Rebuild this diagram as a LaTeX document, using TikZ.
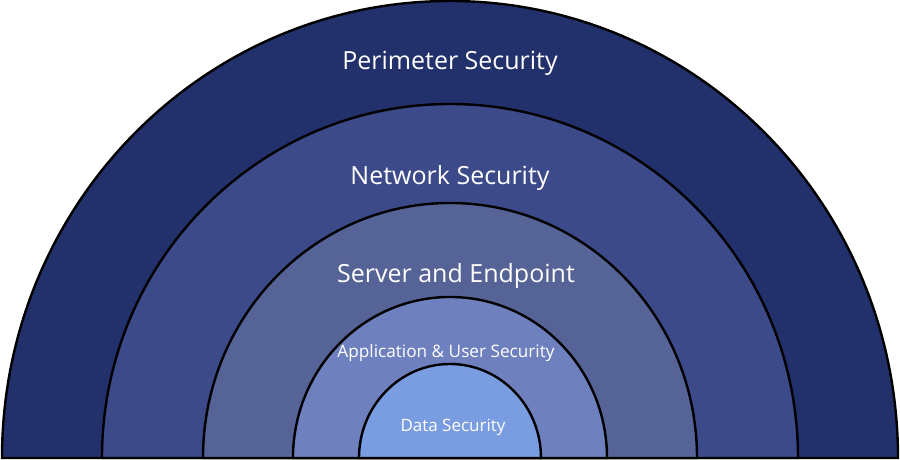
\documentclass[tikz,border=0pt]{standalone}
\usepackage{fontspec}
\setmainfont{Open Sans}
\usepackage{tikz}
\usetikzlibrary{positioning}
\definecolor{ringA}{RGB}{34,48,107}
\definecolor{ringB}{RGB}{60,74,138}
\definecolor{ringC}{RGB}{86,99,150}
\definecolor{ringD}{RGB}{110,128,190}
\definecolor{ringE}{RGB}{122,156,224}
\tikzset{
  ring/.style={draw=black, line width=1.2pt},
  lbl/.style={text=white, inner sep=0pt, font=\fontsize{#1}{#1}\selectfont},
  lbl/.default=12
  }

\begin{document}
\begin{tikzpicture}[x=0.5pt,y=0.5pt]
      \useasboundingbox (-450,-2) rectangle (450,458);
      \draw [ring, fill=ringA] (448,0) arc[start angle=0, end angle=180, x radius=448, y radius=457] -- cycle;
      \draw [ring, fill=ringB] (348,0) arc[start angle=0, end angle=180, x radius=348, y radius=354] -- cycle;
      \draw [ring, fill=ringC] (247,0) arc[start angle=0, end angle=180, x radius=247, y radius=255] -- cycle;
      \draw [ring, fill=ringD] (157,0) arc[start angle=0, end angle=180, x radius=157, y radius=161] -- cycle;
      \draw [ring, fill=ringE] (91,0) arc[start angle=0, end angle=180, x radius=91, y radius=94] -- cycle;
      \node [lbl=12.5] (perim) at (0,395) {Perimeter Security};
      \node [lbl=12.5] (net) at (0,280) {Network Security};
      \node [lbl=12.5] (srv) at (6,182) {Server and Endpoint};
      \node [lbl=8.6] (app) at (-4,105) {Application \& User Security};
      \node [lbl=8.5] (data) at (3,31) {Data Security};
    \end{tikzpicture}
\end{document}
